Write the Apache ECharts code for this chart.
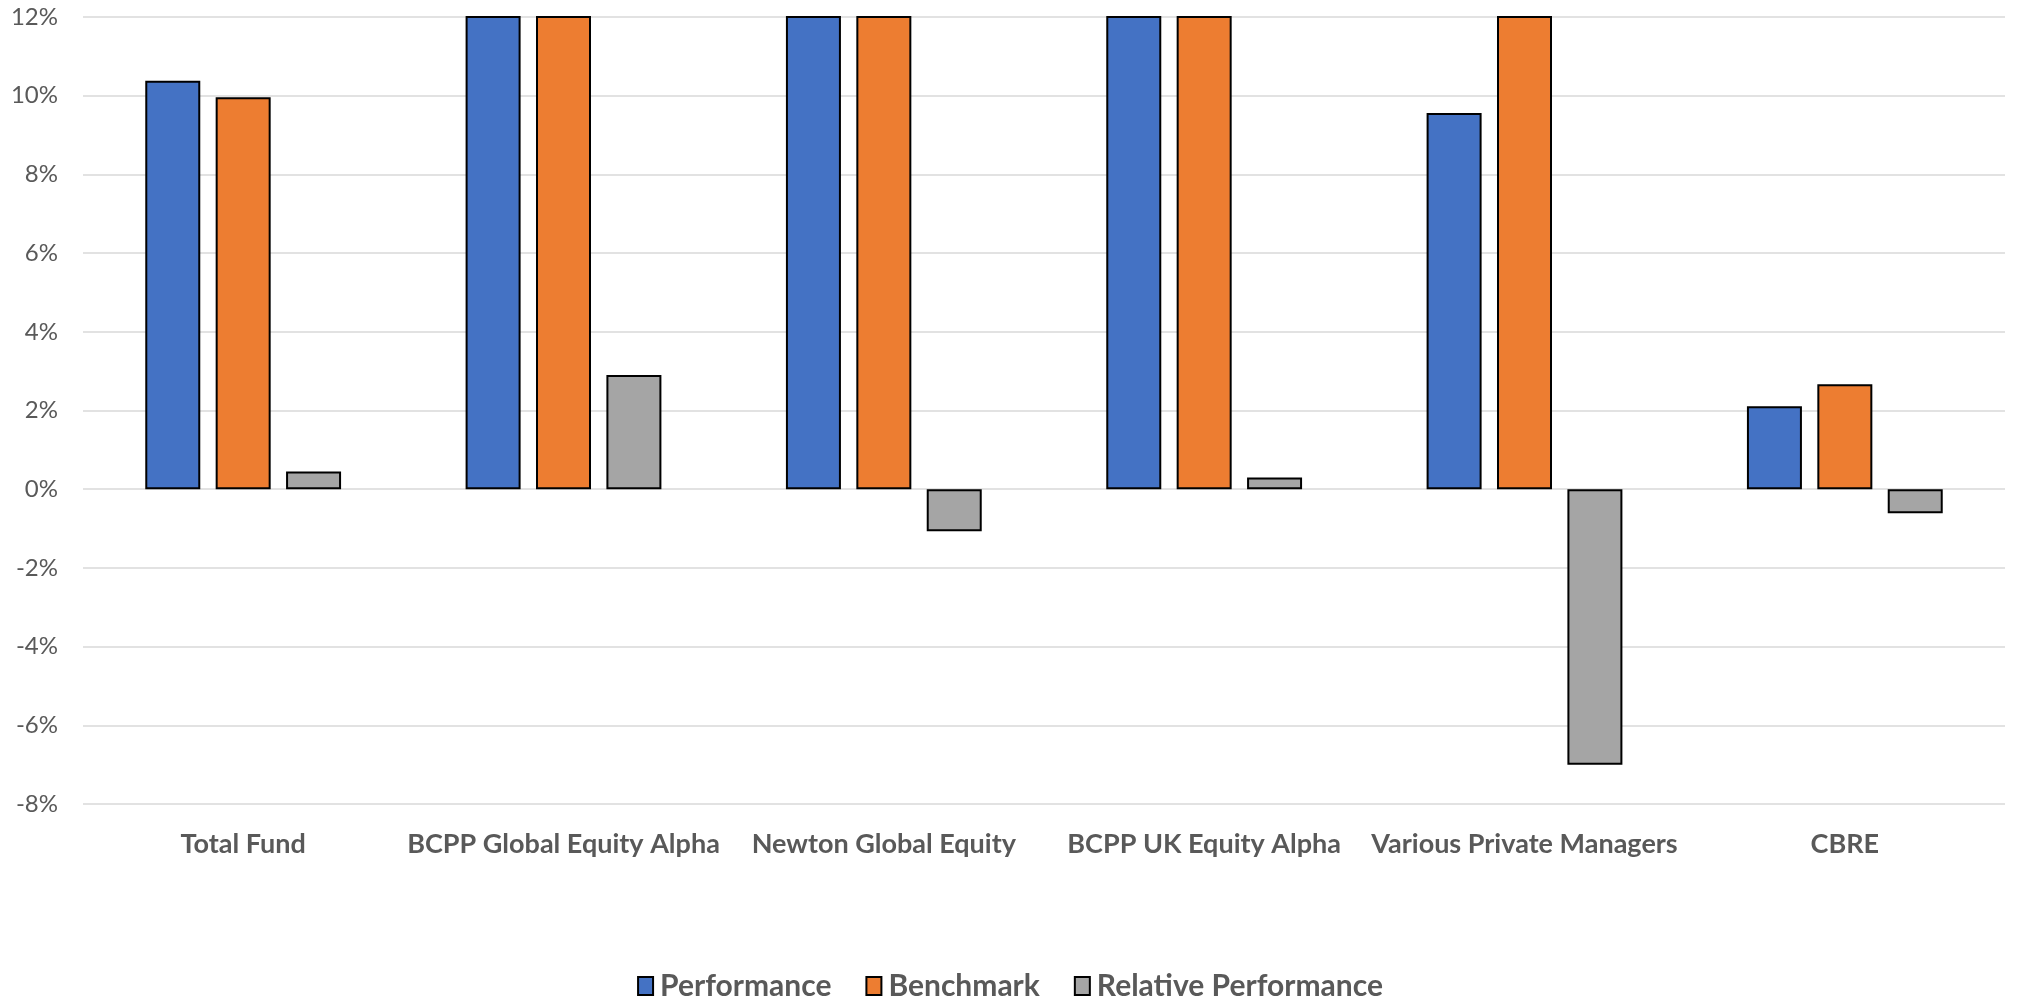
<!DOCTYPE html>
<html>
<head>
<meta charset="utf-8">
<style>
  html, body { margin: 0; padding: 0; background: #ffffff; }
  #chart { width: 2020px; height: 1000px; }
</style>
<script src="https://cdn.jsdelivr.net/npm/echarts@6/dist/echarts.min.js"></script>
</head>
<body>
<div id="chart"></div>
<script>
// Fund categories and annual returns (%)
const categories = [
  'Total Fund',
  'BCPP Global Equity Alpha',
  'Newton Global Equity',
  'BCPP UK Equity Alpha',
  'Various Private Managers',
  'CBRE'
];
const performance = [10.38, 24.6, 21.9, 18.3, 9.56, 2.11];
const benchmark = [9.96, 21.7, 23.0, 18.0, 16.56, 2.67];
const relativePerformance = [0.45, 2.90, -1.07, 0.30, -7.00, -0.61];

const seriesNames = ['Performance', 'Benchmark', 'Relative Performance'];
const seriesColors = ['#4472C4', '#ED7D31', '#A5A5A5'];

// Value axis
const yMin = -8;
const yMax = 12;
const yStep = 2;

const font = 'Lato, "Open Sans", sans-serif';
const textColor = '#595959';

const chart = echarts.init(document.getElementById('chart'));

function barSeries(name, data, color) {
  return {
    name: name,
    type: 'bar',
    data: data,
    barWidth: 55,
    barGap: '28%',
    clip: true,
    itemStyle: { color: color, borderColor: '#000000', borderWidth: 2 }
  };
}

chart.setOption({
  animation: false,
  backgroundColor: '#ffffff',
  grid: { left: 83, right: 15, top: 17, bottom: 196, containLabel: false },
  legend: {
    top: 966,
    left: 'center',
    itemWidth: 15,
    itemHeight: 18,
    itemGap: 34,
    icon: 'rect',
    itemStyle: { borderColor: '#000000', borderWidth: 2 },
    textStyle: { fontFamily: font, fontSize: 30, fontWeight: 'bold', color: textColor, padding: [0, 0, 0, 2] },
    data: seriesNames
  },
  xAxis: {
    type: 'category',
    data: categories,
    axisLine: { show: false, onZero: false },
    axisTick: { show: false },
    axisLabel: { interval: 0, fontFamily: font, fontSize: 27, fontWeight: 'bold', color: textColor, margin: 27 },
    splitLine: { show: false }
  },
  yAxis: {
    type: 'value',
    min: yMin,
    max: yMax,
    interval: yStep,
    axisLine: { show: false },
    axisTick: { show: false },
    axisLabel: { fontFamily: font, fontSize: 24, color: textColor, margin: 25, formatter: '{value}%' },
    splitLine: { lineStyle: { color: '#D9D9D9', width: 1.5 } }
  },
  series: [
    barSeries(seriesNames[0], performance, seriesColors[0]),
    barSeries(seriesNames[1], benchmark, seriesColors[1]),
    barSeries(seriesNames[2], relativePerformance, seriesColors[2])
  ]
});
</script>
</body>
</html>
